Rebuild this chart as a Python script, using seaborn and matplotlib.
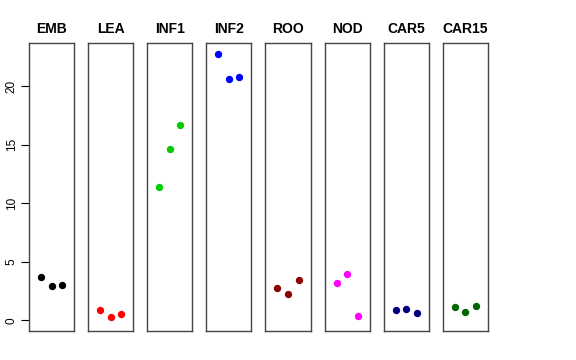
import pandas as pd
import matplotlib.pyplot as plt
import seaborn as sns

tissues = ['EMB', 'LEA', 'INF1', 'INF2', 'ROO', 'NOD', 'CAR5', 'CAR15']
colors = ['#000000', '#FF0000', '#00CD00', '#0000FF', '#8B0000', '#FF00FF', '#000080', '#006400']
rep = [1, 2, 3]
values = {
    'EMB': [3.70, 2.96, 2.99],
    'LEA': [0.85, 0.28, 0.54],
    'INF1': [11.42, 14.60, 16.66],
    'INF2': [22.79, 20.62, 20.80],
    'ROO': [2.73, 2.22, 3.44],
    'NOD': [3.21, 3.98, 0.39],
    'CAR5': [0.91, 0.97, 0.65],
    'CAR15': [1.16, 0.68, 1.20],
}

rows = []
for t in tissues:
    for r, v in zip(rep, values[t]):
        rows.append({'tissue': t, 'rep': r, 'value': v})
df = pd.DataFrame(rows)

sns.set_style('white')
plt.rcParams['font.family'] = ['Liberation Sans', 'DejaVu Sans']
plt.rcParams['text.color'] = 'black'
plt.rcParams['ytick.color'] = 'black'
plt.rcParams['ytick.labelcolor'] = 'black'

fig, axes = plt.subplots(1, 8, figsize=(5.76, 3.6), dpi=100, sharey=True)
fig.subplots_adjust(left=0.0503, right=0.847, top=0.8806, bottom=0.0806, wspace=0.31)

for ax, t, c in zip(axes, tissues, colors):
    sub = df[df['tissue'] == t]
    sns.scatterplot(data=sub, x='rep', y='value', color=c, s=28, linewidth=0, ax=ax)
    ax.set_xlim(2 - 2.135, 2 + 2.135)
    ax.set_ylim(-0.91, 23.7)
    ax.set_xticks([])
    ax.set_xlabel('')
    ax.set_ylabel('')
    ax.set_title(t, fontsize=10, fontweight='bold', pad=7, color='black')
    for sp in ax.spines.values():
        sp.set_visible(True)
        sp.set_color('#444444')
        sp.set_linewidth(1.0)
    ax.tick_params(axis='y', left=False, labelleft=False)

axes[0].set_yticks([0, 5, 10, 15, 20])
axes[0].tick_params(axis='y', left=True, labelleft=True, length=6, width=0.8,
                    color='black', labelcolor='black', labelsize=8.5, pad=2)
for lab in axes[0].get_yticklabels():
    lab.set_rotation(90)
    lab.set_va('center')

fig.savefig('out.png', dpi=100)
